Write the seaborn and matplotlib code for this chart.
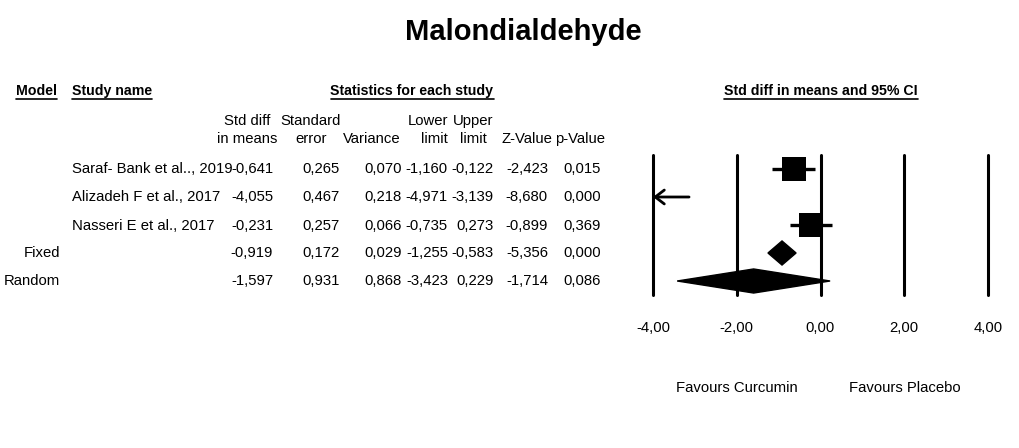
import numpy as np
import pandas as pd
import matplotlib
matplotlib.use("Agg")
import matplotlib.pyplot as plt
from matplotlib.lines import Line2D
import seaborn as sns

# --- data ---
models = ["", "", "", "Fixed", "Random"]
studies = ["Saraf- Bank et al.., 2019", "Alizadeh F et al., 2017", "Nasseri E et al., 2017", "", ""]
std_diff = [-0.641, -4.055, -0.231, -0.919, -1.597]
std_err = [0.265, 0.467, 0.257, 0.172, 0.931]
variance = [0.070, 0.218, 0.066, 0.029, 0.868]
lower = [-1.160, -4.971, -0.735, -1.255, -3.423]
upper = [-0.122, -3.139, 0.273, -0.583, 0.229]
z_value = [-2.423, -8.680, -0.899, -5.356, -1.714]
p_value = [0.015, 0.000, 0.369, 0.000, 0.086]
kind = ["study", "study", "study", "pooled", "pooled"]
ticks = [-4, -2, 0, 2, 4]

df = pd.DataFrame({"model": models, "study": studies, "est": std_diff, "se": std_err,
                   "var": variance, "lo": lower, "hi": upper, "z": z_value, "p": p_value,
                   "kind": kind})
df["row"] = np.arange(len(df))

W, H = 1019, 448
sns.set_style("white")
plt.rcParams["font.family"] = ["Liberation Sans", "DejaVu Sans"]
plt.rcParams["text.color"] = "black"
plt.rcParams["xtick.color"] = "black"

FS = 10.7

fig = plt.figure(figsize=(W / 100, H / 100), dpi=100)


def fx(x):
    return x / W


def fy(y):
    return 1 - y / H


def comma(v, nd=3):
    return f"{v:.{nd}f}".replace(".", ",")


# title
fig.text(fx(523), fy(32), "Malondialdehyde", ha="center", va="center", fontsize=21, fontweight="bold")

# underlined headers
headers = [("Model", 16, "left"), ("Study name", 72, "left"),
           ("Statistics for each study", 412, "center"),
           ("Std diff in means and 95% CI", 821, "center")]
head_texts = [fig.text(fx(x), fy(91), s, ha=ha, va="center", fontsize=10.2, fontweight="bold")
              for s, x, ha in headers]

# column headers (two lines)
col_heads = [("Std diff", "in means", 247, "center"), ("Standard", "error", 311, "center"),
             ("", "Variance", 372, "center"), ("Lower", "limit", 448, "right"),
             ("Upper", "limit", 473, "center"), ("", "Z-Value", 527, "center"),
             ("", "p-Value", 580, "center")]
for l1, l2, x, ha in col_heads:
    if l1:
        fig.text(fx(x), fy(121), l1, ha=ha, va="center", fontsize=FS)
    fig.text(fx(x), fy(139), l2, ha=ha, va="center", fontsize=FS)

# table body
row_y = [169, 197, 226, 253, 281]
val_cols = [("est", 273), ("se", 340), ("var", 402), ("lo", 448), ("hi", 494), ("z", 548), ("p", 601)]
for i, r in df.iterrows():
    y = fy(row_y[i])
    if r["model"]:
        fig.text(fx(60), y, r["model"], ha="right", va="center", fontsize=FS)
    if r["study"]:
        fig.text(fx(72), y, r["study"], ha="left", va="center", fontsize=FS)
    for c, x in val_cols:
        fig.text(fx(x), y, comma(r[c]), ha="right", va="center", fontsize=FS)

# forest plot axes
ax = fig.add_axes([fx(653), fy(295), fx(988) - fx(653), (295 - 155) / H])
ax.set_xlim(-4, 4)
ax.set_ylim(4.5, -0.5)
for t in ticks:
    ax.axvline(t, color="black", lw=2.2, zorder=1, clip_on=False)

studies_df = df[df["kind"] == "study"]
in_range = studies_df[studies_df["lo"] >= -4]
ax.hlines(in_range["row"], in_range["lo"], in_range["hi"], color="black", lw=2.4, zorder=2)
sns.scatterplot(data=studies_df[studies_df["est"] >= -4], x="est", y="row", marker="s",
                s=290, color="black", edgecolor="black", linewidth=0, ax=ax, zorder=3,
                legend=False)

# study off the scale: arrow pointing left
for _, r in studies_df[studies_df["lo"] < -4].iterrows():
    ax.annotate("", xy=(-4, r["row"]), xytext=(r["hi"], r["row"]),
                arrowprops=dict(arrowstyle="->,head_length=0.65,head_width=0.5", lw=2,
                                color="black", shrinkA=0, shrinkB=0),
                annotation_clip=False)

half = 0.43
for _, r in df[df["kind"] == "pooled"].iterrows():
    ax.fill([r["lo"], r["est"], r["hi"], r["est"]],
            [r["row"], r["row"] - half, r["row"], r["row"] + half],
            color="black", zorder=3, clip_on=False)

ax.set_xticks(ticks)
ax.set_xticklabels([comma(t, 2) for t in ticks], fontsize=FS)
ax.set_yticks([])
ax.set_xlabel("")
ax.set_ylabel("")
ax.tick_params(axis="x", length=0, pad=19)
sns.despine(ax=ax, left=True, bottom=True)

fig.text(fx(737), fy(388), "Favours Curcumin", ha="center", va="center", fontsize=FS)
fig.text(fx(905), fy(388), "Favours Placebo", ha="center", va="center", fontsize=FS)

# underline the bold headers
fig.canvas.draw()
for t in head_texts:
    bb = t.get_window_extent()
    y = bb.y0 - 1
    fig.add_artist(Line2D([bb.x0 / W, bb.x1 / W], [y / H, y / H], color="black", lw=1.2))

fig.savefig("out.png", dpi=100)
